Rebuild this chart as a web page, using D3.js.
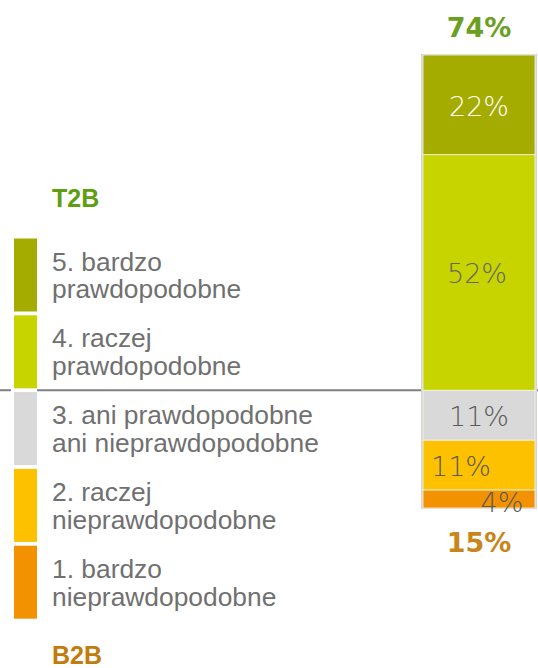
<!DOCTYPE html>
<html><head><meta charset="utf-8">
<script src="https://cdn.jsdelivr.net/npm/d3@7/dist/d3.min.js"></script>
<style>html,body{margin:0;padding:0;background:#fff;}svg{display:block;}</style>
</head><body><svg id="c" width="538" height="668"></svg>
<script>
// ---- data ----
const categories = ["1. bardzo\nnieprawdopodobne", "2. raczej\nnieprawdopodobne", "3. ani prawdopodobne\nani nieprawdopodobne", "4. raczej\nprawdopodobne", "5. bardzo\nprawdopodobne"];
const values = [4, 11, 11, 52, 22];
const colors = ["#f39200", "#fdc100", "#d9d9d9", "#c8d400", "#a4ac00"];
const labelColors = ["#5a5a5a", "#5a5a5a", "#5a5a5a", "#666666", "#ffffff"];
const groupLabels = ["T2B", "B2B"];

// ---- drawing ----
const svg = d3.select("#c");
const W = 538, H = 668;
const y = d3.scaleLinear().domain([0, 100]).range([508, 55]);
const x = d3.scaleBand().domain(["bar"]).range([422, 536]).padding(0);

// divider line between T2B and bottom
const divY = y(values[0] + values[1] + values[2]);
svg.append("line").attr("x1", 0).attr("x2", 11).attr("y1", divY).attr("y2", divY).attr("stroke", "#808080").attr("stroke-width", 2);
svg.append("line").attr("x1", 37).attr("x2", W).attr("y1", divY).attr("y2", divY).attr("stroke", "#808080").attr("stroke-width", 2);

// stacked bar
const stacked = [];
let acc = 0;
values.forEach((v, i) => { stacked.push({ i, v, y0: acc, y1: acc + v }); acc += v; });

const bar = svg.append("g");
bar.append("rect").attr("x", x("bar")).attr("y", y(100)).attr("width", x.bandwidth()).attr("height", y(0) - y(100))
  .attr("fill", "#fff").attr("stroke", "#d4d4d4").attr("stroke-width", 2);
bar.selectAll("rect.seg").data(stacked).join("rect").attr("class", "seg")
  .attr("x", x("bar") + 1).attr("width", x.bandwidth() - 2)
  .attr("y", d => y(d.y1)).attr("height", d => y(d.y0) - y(d.y1))
  .attr("fill", d => colors[d.i]).attr("stroke", "#f4f4e8").attr("stroke-width", 0.8);

// segment labels (small overlapping labels nudged like the original)
const nudge = [23, -18, 0, -2, 0];
bar.selectAll("text.seg").data(stacked).join("text").attr("class", "seg")
  .attr("x", d => x("bar") + x.bandwidth() / 2 + nudge[d.i])
  .attr("y", d => (y(d.y0) + y(d.y1)) / 2 + 11 + (d.i === 0 ? 2 : 0))
  .attr("text-anchor", "middle")
  .attr("font-family", "'DejaVu Sans', sans-serif").attr("font-weight", 200)
  .attr("font-size", 27).attr("fill", d => labelColors[d.i])
  .text(d => d.v + "%");

// totals
const t2b = values[3] + values[4];
const b2b = values[0] + values[1];
svg.append("text").attr("x", x("bar") + x.bandwidth() / 2).attr("y", 37).attr("text-anchor", "middle")
  .attr("font-family", "'DejaVu Sans', sans-serif").attr("font-weight", "bold").attr("font-size", 27)
  .attr("fill", "#6a9f1f").text(t2b + "%");
svg.append("text").attr("x", x("bar") + x.bandwidth() / 2).attr("y", 552).attr("text-anchor", "middle")
  .attr("font-family", "'DejaVu Sans', sans-serif").attr("font-weight", "bold").attr("font-size", 27)
  .attr("fill", "#c98519").text(b2b + "%");

// legend
const legTop = 238.5, legStep = 76.8, swH = 73;
const order = [4, 3, 2, 1, 0];
const leg = svg.append("g");
order.forEach((ci, k) => {
  const top = legTop + k * legStep;
  leg.append("rect").attr("x", 14).attr("y", top).attr("width", 23).attr("height", swH).attr("fill", colors[ci]);
  const lines = categories[ci].split("\n");
  const t = leg.append("text").attr("transform", `translate(52,${top + 32}) scale(1.055,1)`)
    .attr("font-family", "'Liberation Sans', Arial, sans-serif").attr("font-size", 25).attr("fill", "#707070");
  lines.forEach((ln, j) => t.append("tspan").attr("x", 0).attr("dy", j === 0 ? 0 : 28).text(ln));
});

svg.append("text").attr("x", 52).attr("y", 207).attr("font-family", "'Liberation Sans', Arial, sans-serif")
  .attr("font-weight", "bold").attr("font-size", 25).attr("fill", "#5f9e10").text(groupLabels[0]);
svg.append("text").attr("x", 52).attr("y", 664).attr("font-family", "'Liberation Sans', Arial, sans-serif")
  .attr("font-weight", "bold").attr("font-size", 25).attr("fill", "#c27c0e").text(groupLabels[1]);
</script>
</body></html>
